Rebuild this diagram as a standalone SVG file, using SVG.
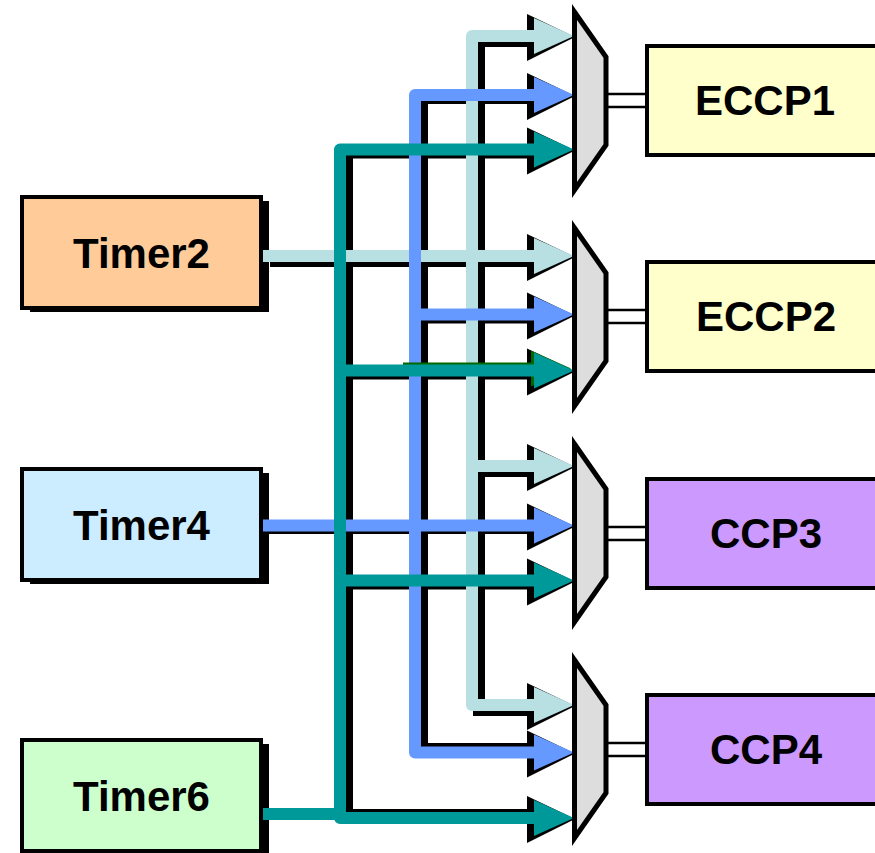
<svg xmlns="http://www.w3.org/2000/svg" width="875" height="853" viewBox="0 0 875 853">
  <defs>
    <style>
      .box { stroke: #000; stroke-width: 4; }
      .shadow { fill: #000; }
      .label { font-family: "Liberation Sans", Arial, sans-serif; font-weight: bold; font-size: 42px; fill: #000; text-anchor: middle; }
      .sh { fill: none; stroke: #000; stroke-width: 12; stroke-linejoin: miter; }
      .wire { fill: none; stroke-width: 12; stroke-linejoin: round; stroke-linecap: butt; }
      .c2 { stroke: #B8DFE2; }
      .c4 { stroke: #6699FF; }
      .c6 { stroke: #009999; }
      .h2 { fill: #B8DFE2; }
      .h4 { fill: #6699FF; }
      .h6 { fill: #009999; }
      .hs { fill: #000; }
      .mux { fill: #DDDDDD; stroke: #000; stroke-width: 5; stroke-linejoin: miter; stroke-miterlimit: 10; }
      .link { fill: #fff; stroke: #000; stroke-width: 2.5; }
    </style>
  </defs>

  <rect width="875" height="853" fill="#fff"/>

  <!-- timer sources -->
  <g id="timer2">
    <rect class="shadow" x="30" y="201" width="239" height="111"/>
    <rect class="box" x="22" y="197" width="239" height="111" fill="#FFCC99"/>
    <text class="label" x="141.5" y="268">Timer2</text>
  </g>
  <g id="timer4">
    <rect class="shadow" x="30" y="473" width="239" height="111"/>
    <rect class="box" x="22" y="469" width="239" height="111" fill="#CCECFF"/>
    <text class="label" x="141.5" y="540">Timer4</text>
  </g>
  <g id="timer6">
    <rect class="shadow" x="30" y="744" width="239" height="111"/>
    <rect class="box" x="22" y="740" width="239" height="111" fill="#CCFFCC"/>
    <text class="label" x="141.5" y="811">Timer6</text>
  </g>

  <!-- timer buses into the selectors -->
  <g id="connectors">
    <!-- shadow layer -->
    <g id="wire-shadows">
      <path class="sh" transform="translate(7,5)" d="M534,36 H472 V705 H534 M472,466 H534 M263,256 H534"/>
      <path class="sh" d="M535,98 H422 V749 H537 M422,317.5 H535"/>
      <path class="sh" transform="translate(0,2.5)" d="M263,525.5 H535"/>
      <path class="sh" d="M535,152.5 H347 V815 H535 M347,373.5 H535 M347,583.5 H535"/>
      <g class="hs">
        <polygon points="527,14 575,37 527,61"/>
        <polygon points="527,234 575,257 527,281"/>
        <polygon points="527,444 575,467 527,491"/>
        <polygon points="527,683 575,706 527,730"/>
        <polygon points="527,73 575,96 527,120"/>
        <polygon points="527,292.5 575,315.5 527,339.5"/>
        <polygon points="527,503.5 575,526.5 527,550.5"/>
        <polygon points="527,730.5 575,753.5 527,777.5"/>
        <polygon points="527,127.5 575,150.5 527,174.5"/>
        <polygon points="527,348.5 575,371.5 527,395.5"/>
        <polygon points="527,558.5 575,581.5 527,605.5"/>
        <polygon points="527,796 575,819 527,843"/>
      </g>
    </g>

    <!-- Timer2 bus -->
    <g id="bus-timer2">
      <path class="wire c2" d="M534,36 H472 V705 H534 M472,466 H534 M263,256 H534"/>
      <g class="h2">
        <polygon points="534,18 574,36 534,54"/>
        <polygon points="534,238 574,256 534,274"/>
        <polygon points="534,448 574,466 534,484"/>
        <polygon points="534,687 574,705 534,723"/>
      </g>
    </g>

    <!-- Timer4 bus -->
    <g id="bus-timer4">
      <path class="wire c4" d="M534,95 H415 V752.5 H534 M415,314.5 H534 M263,525.5 H534"/>
      <g class="h4">
        <polygon points="534,77 574,95 534,113"/>
        <polygon points="534,296.5 574,314.5 534,332.5"/>
        <polygon points="534,507.5 574,525.5 534,543.5"/>
        <polygon points="534,734.5 574,752.5 534,770.5"/>
      </g>
    </g>

    <!-- Timer6 bus -->
    <g id="bus-timer6">
      <path class="wire" stroke="#006600" d="M403,368.5 H532"/>
      <polygon fill="#006600" points="531,350.5 571,368.5 531,386.5"/>
      <path class="wire c6" d="M534,149.5 H340 V818 H534 M340,370.5 H534 M340,580.5 H534 M263,814 H340"/>
      <g class="h6">
        <polygon points="534,131.5 574,149.5 534,167.5"/>
        <polygon points="534,352.5 574,370.5 534,388.5"/>
        <polygon points="534,562.5 574,580.5 534,598.5"/>
        <polygon points="534,800 574,818 534,836"/>
      </g>
    </g>

    <!-- selector outputs -->
    <g id="selector-links">
      <rect class="link" x="603" y="94" width="45" height="13"/>
      <rect class="link" x="603" y="310" width="45" height="13"/>
      <rect class="link" x="603" y="527" width="45" height="13"/>
      <rect class="link" x="603" y="743" width="45" height="13"/>
    </g>
  </g>

  <!-- selectors -->
  <g id="mux1"><polygon class="mux" points="574.5,12 606,57 606,145 574.5,190"/></g>
  <g id="mux2"><polygon class="mux" points="574.5,228 606,273 606,361 574.5,406"/></g>
  <g id="mux3"><polygon class="mux" points="574.5,444 606,489 606,577 574.5,622"/></g>
  <g id="mux4"><polygon class="mux" points="574.5,660 606,705 606,793 574.5,838"/></g>

  <!-- capture/compare modules -->
  <g id="eccp1">
    <rect class="box" x="647" y="46" width="240" height="109" fill="#FFFFCC"/>
    <text class="label" x="765" y="115">ECCP1</text>
  </g>
  <g id="eccp2">
    <rect class="box" x="647" y="262" width="240" height="109" fill="#FFFFCC"/>
    <text class="label" x="766" y="331">ECCP2</text>
  </g>
  <g id="ccp3">
    <rect class="box" x="647" y="479" width="240" height="109" fill="#CC99FF"/>
    <text class="label" x="766" y="548">CCP3</text>
  </g>
  <g id="ccp4">
    <rect class="box" x="647" y="695" width="240" height="109" fill="#CC99FF"/>
    <text class="label" x="766" y="764">CCP4</text>
  </g>
</svg>
